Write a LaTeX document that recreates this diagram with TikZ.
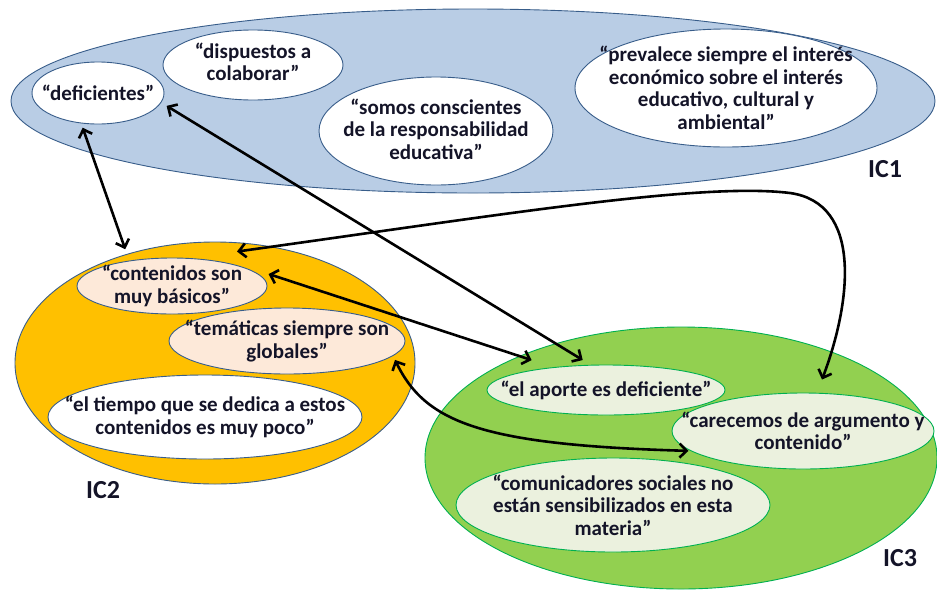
\documentclass[tikz,border=0pt]{standalone}
\usepackage{fontspec}
\setmainfont{Carlito}
\usetikzlibrary{shapes.geometric,arrows.meta,calc}
\definecolor{icone}{HTML}{B9CDE5}
\definecolor{blueline}{HTML}{385D8A}
\definecolor{ictwo}{HTML}{FFC000}
\definecolor{peach}{HTML}{FDE9D9}
\definecolor{icthree}{HTML}{92D050}
\definecolor{greenline}{HTML}{00B050}
\definecolor{palegreen}{HTML}{EBF1DE}
\definecolor{ink}{HTML}{141428}
\begin{document}
\begin{tikzpicture}[x=1pt,y=-1pt,
 bub/.style={ellipse, inner sep=0pt, line width=0.9pt},
 bluebub/.style={bub, draw=blueline, fill=white},
 peachbub/.style={bub, draw=blueline, fill=peach},
 greenbub/.style={bub, draw=greenline, fill=palegreen},
 txt/.style={align=center, text=ink, font=\fontsize{21}{22.5}\selectfont\bfseries, inner sep=0pt},
 lab/.style={text=ink, font=\fontsize{26}{30}\selectfont\bfseries, inner sep=0pt},
 conn/.style={line width=2.6pt, {Straight Barb[length=7pt,width=14pt]}-{Straight Barb[length=7pt,width=14pt]}}
]
\useasboundingbox (0,0) rectangle (937,590);

% IC1
\node[bub, draw=blueline, fill=icone, minimum width=924, minimum height=184] (ic1) at (473,101) {};
\node[bluebub, minimum width=132, minimum height=62] (def) at (98,93) {};
\node[txt] (deft) at (def) {“deficientes”};
\node[bluebub, minimum width=180, minimum height=70] (dis) at (253,65) {};
\node[txt] (dist) at ($(dis)+(0,-3)$) {“dispuestos a\\colaborar”};
\node[bluebub, minimum width=234, minimum height=108] (som) at (436,131) {};
\node[txt] (somt) at ($(som)+(0,-2)$) {“somos conscientes\\de la responsabilidad\\educativa”};
\node[bluebub, minimum width=302, minimum height=118] (pre) at (726,88) {};
\node[txt] (pret) at (pre) {“prevalece siempre el interés\\económico sobre el interés\\educativo, cultural y\\ambiental”};
\node[lab] (ic1l) at (885,169) {IC1};

% IC2
\node[bub, draw=blueline, fill=ictwo, minimum width=400, minimum height=242] (ic2) at (215,363) {};
\node[peachbub, minimum width=190, minimum height=56] (con) at (172,286) {};
\node[txt] (cont) at (con) {“contenidos son\\muy básicos”};
\node[peachbub, minimum width=236, minimum height=66] (tem) at (287,341) {};
\node[txt] (temt) at (tem) {“temáticas siempre son\\globales”};
\node[bluebub, minimum width=314, minimum height=84] (tie) at (205,417) {};
\node[txt] (tiet) at (tie) {“el tiempo que se dedica a estos\\contenidos es muy poco”};
\node[lab] (ic2l) at (103,490) {IC2};

% IC3
\node[bub, draw=greenline, fill=icthree, minimum width=512, minimum height=262] (ic3) at (681,458) {};
\node[greenbub, minimum width=238, minimum height=50] (apo) at (606,390) {};
\node[txt] (apot) at (apo) {“el aporte es deficiente”};
\node[greenbub, minimum width=262, minimum height=76] (car) at (803,431) {};
\node[txt] (cart) at (car) {“carecemos de argumento y\\contenido”};
\node[greenbub, minimum width=314, minimum height=94] (com) at (613,505) {};
\node[txt] (comt) at (com) {“comunicadores sociales no\\están sensibilizados en esta\\materia”};
\node[lab] (ic3l) at (900,558) {IC3};

% connectors
\draw[conn] ($(def.-115)+(-1,4)$) -- ($(ic2.128)+(-4,-4)$);
\draw[conn] ($(def.-12)+(8,0)$) -- ($(apo.133)+(0,-5)$);
\draw[conn] ($(con.5)+(5,-4)$) -- ($(apo.165)+(0,-10)$);
\draw[conn] ($(ic2.north)+(22,10)$) .. controls (500,215) and (700,182) .. (790,193)
   .. controls (862,203) and (852,300) .. ($(car.north)+(19,-13)$);
\draw[conn] ($(tem.-8)+(2,4)$) .. controls (425,422) and (480,445) .. ($(car.190)+(-2,0)$);
\end{tikzpicture}
\end{document}
